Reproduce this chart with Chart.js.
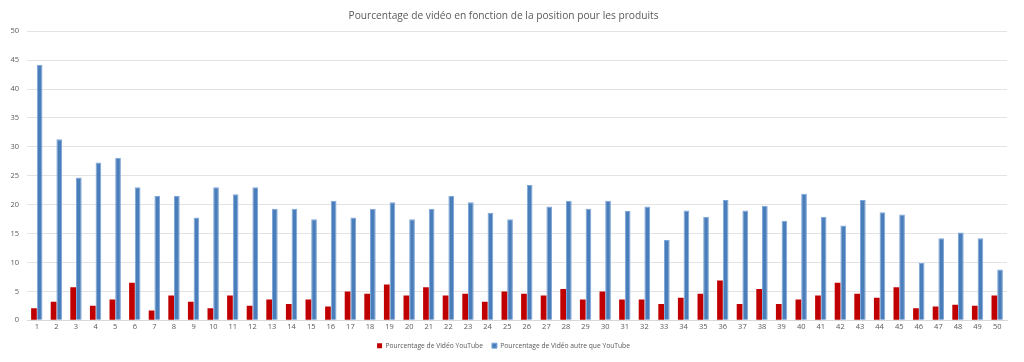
<!DOCTYPE html>
<html>
<head>
<meta charset="utf-8">
<script src="https://cdn.jsdelivr.net/npm/chart.js@4"></script>
<style>
  body { margin: 0; background: #fff; }
  #wrap { width: 1024px; height: 362px; }
</style>
</head>
<body>
<div id="wrap"><canvas id="chart" width="1024" height="362"></canvas></div>
<script>
const positions = Array.from({ length: 50 }, (_, i) => String(i + 1));

const youtube = [
  2.1, 3.2, 5.7, 2.5, 3.6, 6.5, 1.7, 4.3, 3.2, 2.1,
  4.3, 2.5, 3.6, 2.8, 3.6, 2.4, 5.0, 4.6, 6.2, 4.3,
  5.7, 4.3, 4.6, 3.2, 5.0, 4.6, 4.3, 5.4, 3.6, 5.0,
  3.6, 3.6, 2.8, 3.9, 4.6, 6.9, 2.8, 5.4, 2.8, 3.6,
  4.3, 6.5, 4.6, 3.9, 5.7, 2.1, 2.4, 2.7, 2.5, 4.3
];

const autres = [
  44.2, 31.3, 24.7, 27.3, 28.1, 23.0, 21.5, 21.5, 17.8, 23.0,
  21.8, 23.0, 19.3, 19.3, 17.5, 20.7, 17.8, 19.3, 20.4, 17.5,
  19.3, 21.5, 20.4, 18.6, 17.5, 23.4, 19.7, 20.7, 19.3, 20.7,
  18.9, 19.7, 13.9, 19.0, 17.9, 20.8, 19.0, 19.8, 17.2, 21.9,
  17.9, 16.4, 20.8, 18.7, 18.3, 9.9, 14.2, 15.2, 14.2, 8.8
];

const FONT = "'Open Sans', 'Liberation Sans', sans-serif";
const GREY = '#595959';

new Chart(document.getElementById('chart').getContext('2d'), {
  type: 'bar',
  data: {
    labels: positions,
    datasets: [
      {
        label: 'Pourcentage de Vidéo YouTube',
        data: youtube,
        backgroundColor: '#c00000',
        borderWidth: 0,
        barPercentage: 1,
        categoryPercentage: 0.58,
      },
      {
        label: 'Pourcentage de Vidéo autre que YouTube',
        data: autres,
        backgroundColor: '#4a7ebb',
        borderColor: '#7fa6d8',
        borderWidth: 1,
        borderSkipped: 'bottom',
        barPercentage: 1,
        categoryPercentage: 0.58,
      },
    ],
  },
  options: {
    responsive: false,
    animation: false,
    layout: { padding: { left: 0, right: 17, top: 0, bottom: 3 } },
    scales: {
      x: {
        grid: { display: false, drawTicks: false },
        border: { color: '#d9d9d9' },
        ticks: { color: GREY, font: { family: FONT, size: 7.5 }, padding: 2, maxRotation: 0, autoSkip: false },
      },
      y: {
        min: 0,
        max: 50,
        grid: { color: '#e3e3e3', drawTicks: false },
        border: { display: false },
        ticks: { stepSize: 5, color: GREY, font: { family: FONT, size: 7.5 }, padding: 8 },
        afterFit: (scale) => { scale.width = 27; },
      },
    },
    plugins: {
      title: {
        display: true,
        text: 'Pourcentage de vidéo en fonction de la position pour les produits',
        color: GREY,
        font: { family: FONT, size: 10.2, weight: 'normal' },
        padding: { top: 10, bottom: 9 },
      },
      legend: {
        position: 'bottom',
        labels: { color: GREY, font: { family: FONT, size: 6.7 }, boxWidth: 5, boxHeight: 5, padding: 9 },
      },
      tooltip: { enabled: false },
    },
  },
});
</script>
</body>
</html>
